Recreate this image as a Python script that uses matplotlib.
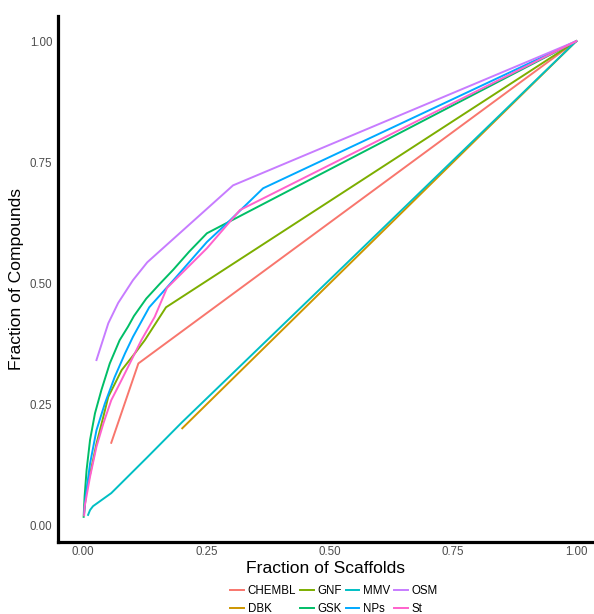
import matplotlib
matplotlib.use("Agg")
import matplotlib.pyplot as plt

plt.rcParams['font.family'] = ['Liberation Sans', 'DejaVu Sans']

# scaffold recovery curves
libraries = ["CHEMBL", "DBK", "GNF", "GSK", "MMV", "NPs", "OSM", "St"]
colors = ["#F8766D", "#CD9600", "#7CAE00", "#00BE67",
          "#00BFC4", "#00A9FF", "#C77CFF", "#FF61CC"]

chembl_x = [0.057, 0.112, 1.0]
chembl_y = [0.170, 0.334, 1.0]

dbk_x = [0.201, 1.0]
dbk_y = [0.200, 1.0]

gnf_x = [0.002, 0.006, 0.014, 0.027, 0.04, 0.051, 0.078, 0.105, 0.125, 0.168, 1.0]
gnf_y = [0.025, 0.07, 0.105, 0.168, 0.22, 0.265, 0.32, 0.355, 0.382, 0.45, 1.0]

gsk_x = [0.001, 0.003, 0.007, 0.014, 0.024, 0.037, 0.054, 0.074, 0.091, 0.103,
         0.128, 0.155, 0.183, 0.215, 0.251, 1.0]
gsk_y = [0.017, 0.06, 0.114, 0.176, 0.231, 0.279, 0.334, 0.382, 0.41, 0.432,
         0.468, 0.498, 0.528, 0.565, 0.603, 1.0]

mmv_x = [0.01, 0.014, 0.02, 0.057, 0.13, 0.2, 0.5, 1.0]
mmv_y = [0.021, 0.031, 0.039, 0.066, 0.14, 0.212, 0.507, 1.0]

nps_x = [0.002, 0.005, 0.014, 0.027, 0.044, 0.064, 0.085, 0.101, 0.134, 0.183,
         0.251, 0.292, 0.365, 1.0]
nps_y = [0.025, 0.058, 0.127, 0.196, 0.251, 0.306, 0.355, 0.389, 0.45, 0.506,
         0.585, 0.624, 0.696, 1.0]

osm_x = [0.027, 0.051, 0.071, 0.101, 0.13, 0.304, 1.0]
osm_y = [0.341, 0.417, 0.459, 0.506, 0.543, 0.702, 1.0]

st_x = [0.002, 0.003, 0.014, 0.027, 0.041, 0.057, 0.078, 0.098, 0.118, 0.145,
        0.17, 0.251, 0.318, 1.0]
st_y = [0.02, 0.038, 0.1, 0.162, 0.21, 0.258, 0.3, 0.341, 0.382, 0.43,
        0.49, 0.572, 0.651, 1.0]

xs = [chembl_x, dbk_x, gnf_x, gsk_x, mmv_x, nps_x, osm_x, st_x]
ys = [chembl_y, dbk_y, gnf_y, gsk_y, mmv_y, nps_y, osm_y, st_y]

ticks = [0.0, 0.25, 0.5, 0.75, 1.0]
tick_labels = ["0.00", "0.25", "0.50", "0.75", "1.00"]

fig = plt.figure(figsize=(5.94, 6.14), dpi=100)
ax = fig.add_axes([58 / 594, 72 / 614, 536 / 594, 526 / 614])

for name, col, x, y in zip(libraries, colors, xs, ys):
    ax.plot(x, y, color=col, lw=1.4, label=name, solid_joinstyle='round')

ax.set_xlim(-0.051, 1.036)
ax.set_ylim(-0.035, 1.052)
ax.set_xticks(ticks)
ax.set_xticklabels(tick_labels)
ax.set_yticks(ticks)
ax.set_yticklabels(tick_labels)
ax.tick_params(length=0, labelsize=8.3, labelcolor="#4D4D4D")
ax.tick_params(axis='y', pad=4)
ax.tick_params(axis='x', pad=3)

for side in ["top", "right"]:
    ax.spines[side].set_visible(False)
for side in ["left", "bottom"]:
    ax.spines[side].set_linewidth(2.3)
    ax.spines[side].set_color("black")

ax.set_xlabel("Fraction of Scaffolds", fontsize=12.6, labelpad=2)
ax.set_ylabel("Fraction of Compounds", fontsize=12.6, labelpad=4)

fig.legend(loc='center', bbox_to_anchor=(334 / 594, 14 / 614), ncol=4,
           frameon=False, fontsize=8.3, handlelength=1.2, handletextpad=0.35,
           columnspacing=0.3, labelspacing=0.5, borderpad=0)

fig.savefig("out.png", dpi=100)
